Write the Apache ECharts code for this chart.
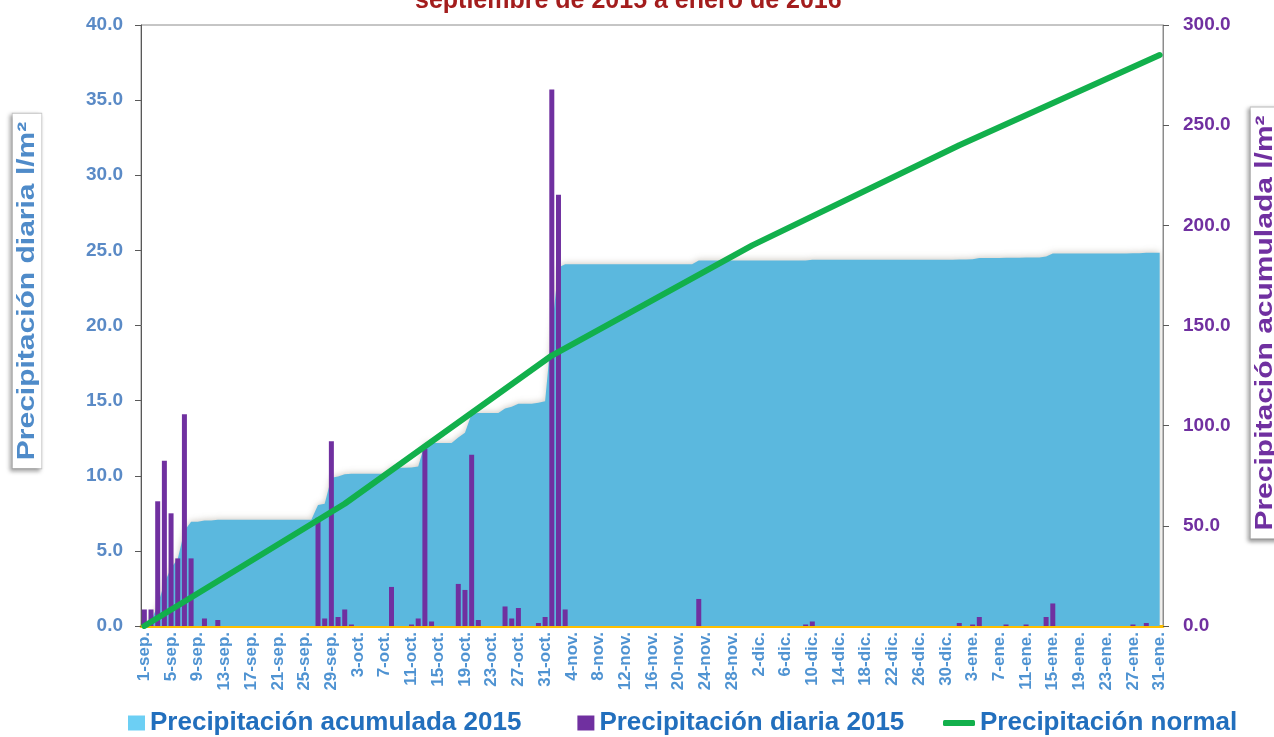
<!DOCTYPE html>
<html>
<head>
<meta charset="utf-8">
<title>Precipitación septiembre 2015 - enero 2016</title>
<script src="https://cdn.jsdelivr.net/npm/echarts@6/dist/echarts.min.js"></script>
<style>
  html, body { margin: 0; padding: 0; background: #fff; }
  #main { width: 1274px; height: 737px; }
</style>
</head>
<body>
<div id="main"></div>
<script>
// meses del periodo (nombre abreviado, dias)
var meses = [['sep.', 30], ['oct.', 31], ['nov.', 30], ['dic.', 31], ['ene.', 31]];

// precipitacion diaria 2015 (l/m2), un valor por dia
var diariaSep = [
  1.1, 1.1, 8.3, 11.0, 7.5, 4.5, 14.1, 4.5, 0, 0.5,
  0, 0.4, 0, 0, 0, 0, 0, 0, 0, 0,
  0, 0, 0, 0, 0, 0, 7.2, 0.5, 12.3, 0.6
];
var diariaOct = [
  1.1, 0.1, 0, 0, 0, 0, 0, 2.6, 0, 0,
  0.1, 0.5, 11.8, 0.3, 0, 0, 0, 2.8, 2.4, 11.4,
  0.4, 0, 0, 0, 1.3, 0.5, 1.2, 0, 0, 0.2, 0.6
];
var diariaNov = [
  35.7, 28.7, 1.1, 0, 0, 0, 0, 0, 0, 0,
  0, 0, 0, 0, 0, 0, 0, 0, 0, 0,
  0, 0, 1.8, 0, 0, 0, 0, 0, 0, 0
];
var diariaDic = [
  0, 0, 0, 0, 0, 0, 0, 0, 0.1, 0.3,
  0, 0, 0, 0, 0, 0, 0, 0, 0, 0,
  0, 0, 0, 0, 0, 0, 0, 0, 0, 0, 0
];
var diariaEne = [
  0.2, 0, 0.1, 0.6, 0, 0, 0, 0.1, 0, 0,
  0.1, 0, 0, 0.6, 1.5, 0, 0, 0, 0, 0,
  0, 0, 0, 0, 0, 0, 0.1, 0, 0.2, 0, 0
];

var acumSep = [
  1.1, 2.2, 10.5, 21.5, 29.0, 33.5, 47.6, 52.1, 52.1, 52.6,
  52.6, 53.0, 53.0, 53.0, 53.0, 53.0, 53.0, 53.0, 53.0, 53.0,
  53.0, 53.0, 53.0, 53.0, 53.0, 53.0, 60.4, 61.0, 74.0, 74.6
];
var acumOct = [
  75.8, 76.0, 76.0, 76.0, 76.0, 76.0, 76.0, 79.0, 79.0, 79.0,
  79.1, 79.6, 91.0, 91.3, 91.3, 91.3, 91.3, 94.1, 96.5, 105.9,
  106.3, 106.3, 106.3, 106.3, 108.6, 109.4, 111.0, 111.0, 111.0, 111.4, 112.2
];
var acumNov = [
  148.0, 179.0, 180.6, 180.6, 180.6, 180.6, 180.6, 180.6, 180.6, 180.6,
  180.6, 180.6, 180.6, 180.6, 180.6, 180.6, 180.6, 180.6, 180.6, 180.6,
  180.6, 180.6, 182.4, 182.4, 182.4, 182.4, 182.4, 182.4, 182.4, 182.4
];
var acumDic = [
  182.4, 182.4, 182.4, 182.4, 182.4, 182.4, 182.4, 182.4, 182.5, 182.8,
  182.8, 182.8, 182.8, 182.8, 182.8, 182.8, 182.8, 182.8, 182.8, 182.8,
  182.8, 182.8, 182.8, 182.8, 182.8, 182.8, 182.8, 182.8, 182.8, 182.8, 182.8
];
var acumEne = [
  183.0, 183.0, 183.1, 183.7, 183.7, 183.7, 183.7, 183.8, 183.8, 183.8,
  183.9, 183.9, 183.9, 184.5, 186.0, 186.0, 186.0, 186.0, 186.0, 186.0,
  186.0, 186.0, 186.0, 186.0, 186.0, 186.0, 186.1, 186.1, 186.3, 186.3, 186.3
];

// precipitacion normal acumulada (l/m2), puntos de la recta por mes
var normalDias = ['1-sep.', '1-oct.', '1-nov.', '1-dic.', '1-ene.', '31-ene.'];
var normalValores = [0, 61, 135, 190, 240, 285];

var nombres = ['Precipitación acumulada 2015', 'Precipitación diaria 2015', 'Precipitación normal'];

// categorias 1-sep. ... 31-ene.
var categorias = [];
meses.forEach(function (m) {
  for (var d = 1; d <= m[1]; d++) categorias.push(d + '-' + m[0]);
});

var diaria = [].concat(diariaSep, diariaOct, diariaNov, diariaDic, diariaEne);
var acumulada = [].concat(acumSep, acumOct, acumNov, acumDic, acumEne);
var normal = categorias.map(function (c) {
  var k = normalDias.indexOf(c);
  return k >= 0 ? normalValores[k] : null;
});

var FONT = '"Liberation Sans", Arial, sans-serif';
var chart = echarts.init(document.getElementById('main'));

chart.setOption({
  backgroundColor: '#ffffff',
  animation: false,
  title: {
    text: 'septiembre de 2015 a enero de 2016',
    left: 415,
    top: -11,
    padding: 0,
    textStyle: { color: '#a31d1d', fontSize: 25, fontWeight: 'bold', fontFamily: FONT }
  },
  legend: [
    {
      data: [
        { name: nombres[0], itemStyle: { color: '#6ccff4' } },
        { name: nombres[1] }
      ],
      left: 128,
      top: 710,
      padding: 0,
      icon: 'rect',
      itemWidth: 17,
      itemHeight: 15,
      itemGap: 56,
      textStyle: { color: '#226fbd', fontSize: 26, fontWeight: 'bold', fontFamily: FONT }
    },
    {
      data: [{ name: nombres[2], icon: 'roundRect' }],
      left: 943,
      top: 710,
      padding: 0,
      itemWidth: 32,
      itemHeight: 6,
      textStyle: { color: '#226fbd', fontSize: 26, fontWeight: 'bold', fontFamily: FONT }
    }
  ],
  grid: {
    left: 141,
    right: 111,
    top: 25,
    bottom: 111,
    show: true,
    borderColor: '#8c8c8c',
    borderWidth: 1
  },
  xAxis: {
    type: 'category',
    data: categorias,
    boundaryGap: true,
    axisLine: { lineStyle: { color: '#ffc000', width: 3 } },
    axisTick: { show: false },
    axisLabel: {
      interval: 3,
      rotate: 90,
      margin: 6,
      color: '#4f93d2',
      fontSize: 17,
      fontWeight: 'bold',
      fontFamily: FONT
    }
  },
  yAxis: [
    {
      type: 'value',
      min: 0,
      max: 40,
      interval: 5,
      axisLine: { show: true, lineStyle: { color: '#595959' } },
      axisTick: { show: true, length: 6, lineStyle: { color: '#595959' } },
      splitLine: { show: false },
      axisLabel: {
        margin: 18,
        formatter: function (v) { return v.toFixed(1); },
        color: '#5a8ac6',
        fontSize: 19,
        fontWeight: 'bold',
        fontFamily: FONT
      }
    },
    {
      type: 'value',
      position: 'right',
      min: 0,
      max: 300,
      interval: 50,
      axisLine: { show: true, lineStyle: { color: '#8c8c8c' } },
      axisTick: { show: true, length: 6, lineStyle: { color: '#595959' } },
      splitLine: { show: false },
      axisLabel: {
        margin: 20,
        formatter: function (v) { return v.toFixed(1); },
        color: '#7030a0',
        fontSize: 19,
        fontWeight: 'bold',
        fontFamily: FONT
      }
    }
  ],
  graphic: [
    {
      type: 'text',
      x: 27,
      y: 291,
      rotation: Math.PI / 2,
      scaleY: 0.8,
      style: {
        text: 'Precipitación diaria l/m²',
        font: 'bold 30px "Liberation Sans", Arial, sans-serif',
        fill: '#4f8bc9',
        align: 'center',
        verticalAlign: 'middle',
        backgroundColor: '#ffffff',
        borderColor: '#c8c8c8',
        borderWidth: 1,
        padding: [3, 8],
        shadowColor: 'rgba(0,0,0,0.35)',
        shadowBlur: 4,
        shadowOffsetX: -2,
        shadowOffsetY: 2
      }
    },
    {
      type: 'text',
      x: 1265,
      y: 323,
      rotation: Math.PI / 2,
      scaleY: 0.8,
      style: {
        text: 'Precipitación acumulada l/m²',
        font: 'bold 30px "Liberation Sans", Arial, sans-serif',
        fill: '#7030a0',
        align: 'center',
        verticalAlign: 'middle',
        backgroundColor: '#ffffff',
        borderColor: '#c8c8c8',
        borderWidth: 1,
        padding: [3, 8],
        shadowColor: 'rgba(0,0,0,0.35)',
        shadowBlur: 4,
        shadowOffsetX: -2,
        shadowOffsetY: 2
      }
    }
  ],
  series: [
    {
      name: nombres[0],
      type: 'line',
      yAxisIndex: 1,
      z: 1,
      data: acumulada,
      showSymbol: false,
      symbol: 'none',
      color: '#5bb8de',
      lineStyle: { width: 0 },
      areaStyle: {
        color: '#5bb8de',
        opacity: 1,
        shadowColor: 'rgba(120,110,90,0.35)',
        shadowBlur: 6,
        shadowOffsetY: -1
      }
    },
    {
      name: nombres[1],
      type: 'bar',
      yAxisIndex: 0,
      z: 3,
      data: diaria,
      barWidth: 5,
      color: '#7030a0'
    },
    {
      name: nombres[2],
      type: 'line',
      yAxisIndex: 1,
      z: 4,
      data: normal,
      connectNulls: true,
      showSymbol: false,
      symbol: 'none',
      color: '#12b04c',
      lineStyle: { width: 6, color: '#12b04c', cap: 'round' }
    }
  ]
});
</script>
</body>
</html>
